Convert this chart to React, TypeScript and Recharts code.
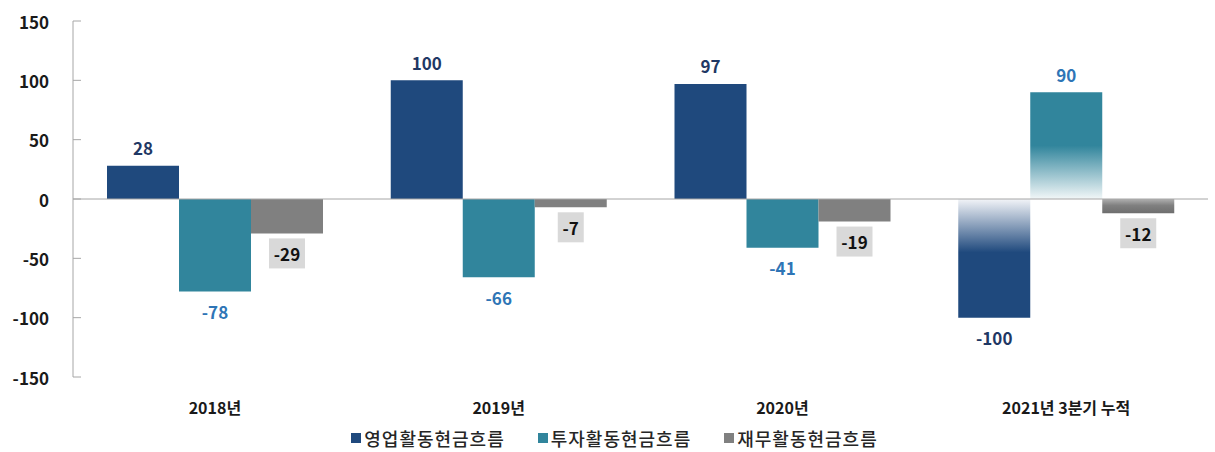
import { Bar, BarChart, Cell, LabelList, Legend, ReferenceLine, XAxis, YAxis } from "recharts";

const categories = ["2018년", "2019년", "2020년", "2021년 3분기 누적"];
const operating = [28, 100, 97, -100];
const investing = [-78, -66, -41, 90];
const financing = [-29, -7, -19, -12];
const yTicks = [-150, -100, -50, 0, 50, 100, 150];
const seriesNames = ["영업활동현금흐름", "투자활동현금흐름", "재무활동현금흐름"];

const colors = ["#1f497d", "#31859c", "#808080"];
const labelColors = ["#1f3864", "#2e75b6", "#111111"];
const gradientIds = ["opGrad", "invGrad", "finGrad"];
const FONT = "'Noto Sans CJK KR', 'Noto Sans', sans-serif";

const data = categories.map((name, i) => ({
  name,
  operating: operating[i],
  investing: investing[i],
  financing: financing[i],
}));

const makeLabel = (color: string, boxed: boolean) => (props: any) => {
  const { x, y, width, height, value } = props;
  const top = Math.min(y, y + height);
  const bottom = Math.max(y, y + height);
  const cx = x + width / 2;
  const cy = value >= 0 ? top - 18 : bottom + 20;
  const text = String(value);
  const boxW = text.length * 10 + 6;
  return (
    <g>
      {boxed && <rect x={cx - boxW / 2} y={cy - 15} width={boxW} height={30} fill="#d9d9d9" />}
      <text
        x={cx}
        y={cy}
        textAnchor="middle"
        dominantBaseline="central"
        fill={color}
        fontSize={17}
        fontWeight={700}
        fontFamily={FONT}
      >
        {text}
      </text>
    </g>
  );
};

const YTick = (props: any) => {
  const { x, y, payload } = props;
  return (
    <g>
      <line x1={x} x2={x + 8} y1={y} y2={y} stroke="#a6a6a6" />
      <text
        x={x - 24}
        y={y}
        textAnchor="end"
        dominantBaseline="central"
        fill="#1a1a1a"
        fontSize={17}
        fontWeight={700}
        fontFamily={FONT}
      >
        {payload.value}
      </text>
    </g>
  );
};

const XTick = (props: any) => {
  const { x, y, payload } = props;
  return (
    <text
      x={x}
      y={y + 22}
      textAnchor="middle"
      dominantBaseline="central"
      fill="#1a1a1a"
      fontSize={16}
      fontWeight={700}
      fontFamily={FONT}
    >
      {payload.value}
    </text>
  );
};

const LegendContent = () => (
  <div
    style={{
      height: 30,
      paddingTop: 6,
      paddingLeft: 21,
      boxSizing: "border-box",
      display: "flex",
      justifyContent: "center",
      alignItems: "flex-start",
      gap: 33,
      fontFamily: FONT,
      fontSize: 18,
      letterSpacing: 1,
      lineHeight: "20px",
      fontWeight: 500,
      color: "#262626",
    }}
  >
    {seriesNames.map((n, i) => (
      <div key={n} style={{ display: "flex", alignItems: "center", gap: 3, height: 20 }}>
        <span style={{ width: 10, height: 10, background: colors[i], display: "inline-block" }} />
        <span>{n}</span>
      </div>
    ))}
  </div>
);

export default function App() {
  const keys = ["operating", "investing", "financing"];
  return (
    <div style={{ position: "absolute", left: 0, top: 0, width: 1215, height: 452, background: "#fff" }}>
      <BarChart
        width={1215}
        height={452}
        data={data}
        margin={{ top: 21, right: 7, left: 0, bottom: 0 }}
        barGap={0}
      >
        <defs>
          <linearGradient id="opGrad" x1="0" y1="0" x2="0" y2="1">
            <stop offset="0%" stopColor="#f2f4f8" />
            <stop offset="45%" stopColor="#1f497d" />
            <stop offset="100%" stopColor="#1f497d" />
          </linearGradient>
          <linearGradient id="invGrad" x1="0" y1="0" x2="0" y2="1">
            <stop offset="0%" stopColor="#31859c" />
            <stop offset="50%" stopColor="#31859c" />
            <stop offset="100%" stopColor="#f2f7f8" />
          </linearGradient>
          <linearGradient id="finGrad" x1="0" y1="0" x2="0" y2="1">
            <stop offset="0%" stopColor="#b0b0b0" />
            <stop offset="45%" stopColor="#808080" />
            <stop offset="100%" stopColor="#6e6e6e" />
          </linearGradient>
        </defs>
        <XAxis dataKey="name" axisLine={false} tickLine={false} height={45} tick={<XTick />} interval={0} />
        <YAxis
          domain={[-150, 150]}
          ticks={yTicks}
          width={73}
          stroke="#a6a6a6"
          tickSize={0}
          tickMargin={0}
          tick={<YTick />}
          interval={0}
        />
        <ReferenceLine y={0} stroke="#a6a6a6" />
        <Legend verticalAlign="bottom" content={<LegendContent />} />
        {keys.map((k, s) => (
          <Bar key={k} dataKey={k} name={seriesNames[s]} fill={colors[s]} barSize={72} isAnimationActive={false}>
            {data.map((_, i) => (
              <Cell key={i} fill={i === 3 ? `url(#${gradientIds[s]})` : colors[s]} />
            ))}
            <LabelList dataKey={k} content={makeLabel(labelColors[s], s === 2)} />
          </Bar>
        ))}
      </BarChart>
    </div>
  );
}
